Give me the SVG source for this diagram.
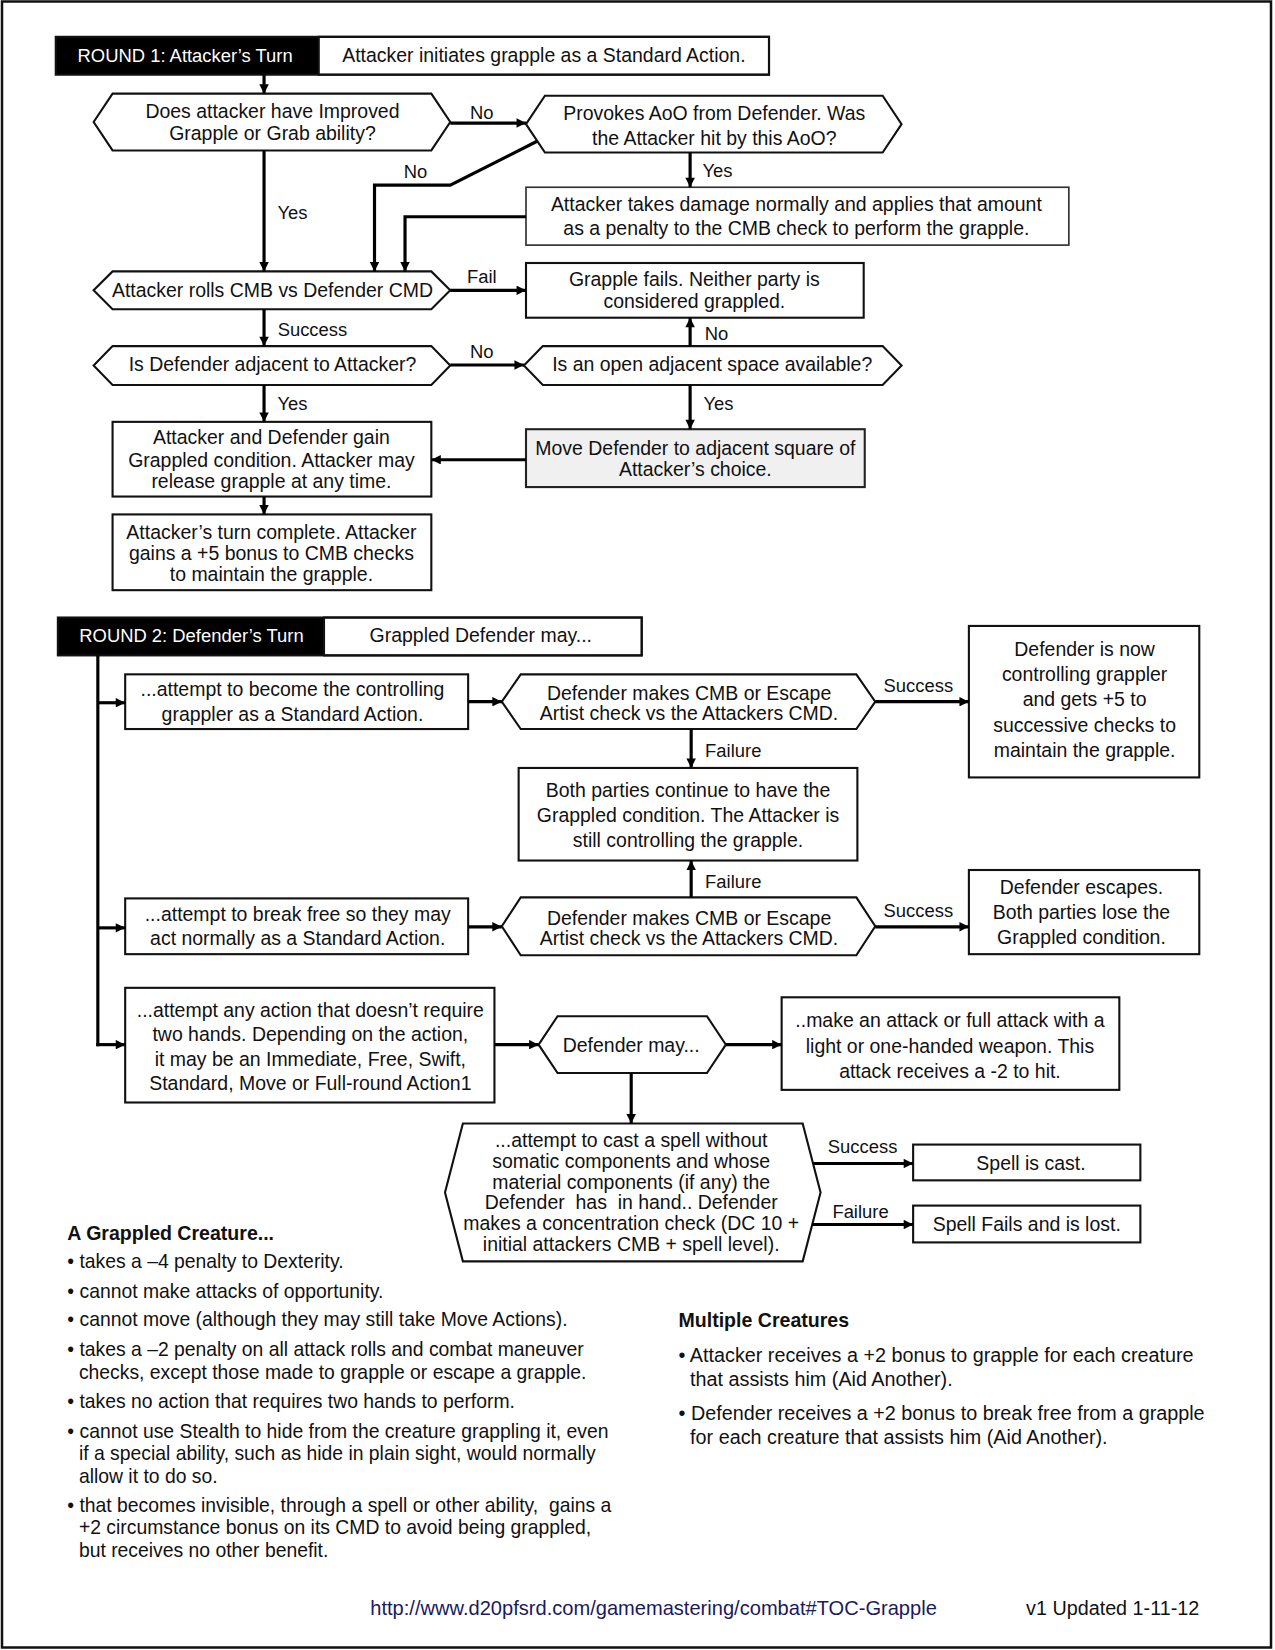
<svg xmlns="http://www.w3.org/2000/svg" width="1275" height="1650" viewBox="0 0 1275 1650">
<style>
text{font-family:"Liberation Sans",Arial,sans-serif;font-size:18.5px;fill:#111}
.c{text-anchor:middle}
.hdr{fill:#fff;font-size:17.5px}
.lbl{font-size:17.5px}
.box{fill:#fff;stroke:#111;stroke-width:2}
.gbox{fill:#f0f0f0;stroke:#222;stroke-width:2}
.conn{fill:none;stroke:#000;stroke-width:3}
.arr{marker-end:url(#ah)}
.b{font-size:18.4px}
.b2{font-size:18.8px}
.bh{font-size:18.6px;font-weight:bold}
.url{fill:#1a1a5c;font-size:19.1px}
</style>
<defs>
<marker id="ah" viewBox="0 0 10 10" refX="10" refY="5" markerWidth="3.6" markerHeight="3" orient="auto" markerUnits="strokeWidth"><path d="M0,0 L10,5 L0,10 z" fill="#000"/></marker>
</defs>
<rect x="2" y="1.5" width="1269" height="1646" fill="#fff" stroke="#111" stroke-width="2.5"/>
<g transform="scale(1.052)">
<g id="round1-header">
<rect x="53" y="35" width="250" height="36" fill="#000"/>
<rect x="303" y="35" width="428" height="36" class="box"/>
<rect x="53" y="35" width="678" height="36" fill="none" stroke="#111" stroke-width="2"/>
<text x="176" y="58.5" class="c hdr">ROUND 1: Attacker’s Turn</text>
<text x="517" y="58.5" class="c">Attacker initiates grapple as a Standard Action.</text>
</g>
<g id="q-improved">
<path class="box" d="M89,116 L107,89 H410 L428,116 L410,143 H107 Z"/>
<text x="259" y="112.5" class="c">Does attacker have Improved</text>
<text x="259" y="133.5" class="c">Grapple or Grab ability?</text>
</g>
<g id="q-aoo">
<path class="box" d="M500,118 L518,91 H839 L857,118 L839,145 H518 Z"/>
<text x="679" y="114.5" class="c">Provokes AoO from Defender. Was</text>
<text x="679" y="137.5" class="c">the Attacker hit by this AoO?</text>
</g>
<g id="damage">
<rect x="500" y="178" width="516" height="55" fill="#fff" stroke="#333" stroke-width="1.6"/>
<text x="757" y="200.5" class="c">Attacker takes damage normally and applies that amount</text>
<text x="757" y="223.5" class="c">as a penalty to the CMB check to perform the grapple.</text>
</g>
<g id="roll-cmb">
<path class="box" d="M89,276 L107,258 H410 L428,276 L410,294 H107 Z"/>
<text x="259" y="282.5" class="c">Attacker rolls CMB vs Defender CMD</text>
</g>
<g id="fails">
<rect class="box" x="500" y="250" width="321" height="52"/>
<text x="660" y="271.5" class="c">Grapple fails. Neither party is</text>
<text x="660" y="292.5" class="c">considered grappled.</text>
</g>
<g id="q-adjacent">
<path class="box" d="M89,347.5 L107,329 H410 L428,347.5 L410,366 H107 Z"/>
<text x="259" y="353" class="c">Is Defender adjacent to Attacker?</text>
</g>
<g id="q-space">
<path class="box" d="M498,347.5 L516,329 H839 L857,347.5 L839,366 H516 Z"/>
<text x="677" y="353" class="c">Is an open adjacent space available?</text>
</g>
<g id="grappled">
<rect class="box" x="107" y="401" width="303" height="71"/>
<text x="258" y="422.5" class="c">Attacker and Defender gain</text>
<text x="258" y="443.5" class="c">Grappled condition. Attacker may</text>
<text x="258" y="463.5" class="c">release grapple at any time.</text>
</g>
<g id="move-defender">
<rect class="gbox" x="500" y="408" width="322" height="55"/>
<text x="661" y="432.5" class="c">Move Defender to adjacent square of</text>
<text x="661" y="452.5" class="c">Attacker’s choice.</text>
</g>
<g id="turn-complete">
<rect class="box" x="107" y="489" width="303" height="72"/>
<text x="258" y="512.5" class="c">Attacker’s turn complete. Attacker</text>
<text x="258" y="532.5" class="c">gains a +5 bonus to CMB checks</text>
<text x="258" y="552.5" class="c">to maintain the grapple.</text>
</g>
<g id="round2-header">
<rect x="55" y="587" width="253" height="36" fill="#000"/>
<rect x="308" y="587" width="302" height="36" class="box"/>
<rect x="55" y="587" width="555" height="36" fill="none" stroke="#111" stroke-width="2"/>
<text x="182" y="610.5" class="c hdr">ROUND 2: Defender’s Turn</text>
<text x="457" y="610.5" class="c">Grappled Defender may...</text>
</g>
<g id="control">
<rect class="box" x="119" y="641" width="326" height="52"/>
<text x="278" y="661.5" class="c">...attempt to become the controlling</text>
<text x="278" y="685.5" class="c">grappler as a Standard Action.</text>
</g>
<g id="check1">
<path class="box" d="M477,667 L495,641 H814 L832,667 L814,693 H495 Z"/>
<text x="655" y="665.5" class="c">Defender makes CMB or Escape</text>
<text x="655" y="684.5" class="c">Artist check vs the Attackers CMD.</text>
</g>
<g id="now-controlling">
<rect class="box" x="921" y="595" width="219" height="144"/>
<text x="1031" y="623.5" class="c">Defender is now</text>
<text x="1031" y="647.5" class="c">controlling grappler</text>
<text x="1031" y="671.5" class="c">and gets +5 to</text>
<text x="1031" y="695.5" class="c">successive checks to</text>
<text x="1031" y="719.5" class="c">maintain the grapple.</text>
</g>
<g id="continue">
<rect class="box" x="493" y="730" width="322" height="88"/>
<text x="654" y="757.5" class="c">Both parties continue to have the</text>
<text x="654" y="781.5" class="c">Grappled condition. The Attacker is</text>
<text x="654" y="805.5" class="c">still controlling the grapple.</text>
</g>
<g id="break-free">
<rect class="box" x="119" y="854" width="326" height="53"/>
<text x="283" y="875.5" class="c">...attempt to break free so they may</text>
<text x="283" y="898.5" class="c">act normally as a Standard Action.</text>
</g>
<g id="check2">
<path class="box" d="M477,880.5 L495,853 H814 L832,880.5 L814,908 H495 Z"/>
<text x="655" y="879.5" class="c">Defender makes CMB or Escape</text>
<text x="655" y="898.5" class="c">Artist check vs the Attackers CMD.</text>
</g>
<g id="escapes">
<rect class="box" x="921" y="827" width="219" height="80"/>
<text x="1028" y="849.5" class="c">Defender escapes.</text>
<text x="1028" y="873.5" class="c">Both parties lose the</text>
<text x="1028" y="897.5" class="c">Grappled condition.</text>
</g>
<g id="any-action">
<rect class="box" x="119" y="939" width="351" height="109"/>
<text x="295" y="966.5" class="c">...attempt any action that doesn’t require</text>
<text x="295" y="989.5" class="c">two hands. Depending on the action,</text>
<text x="295" y="1013.5" class="c">it may be an Immediate, Free, Swift,</text>
<text x="295" y="1036.5" class="c">Standard, Move or Full-round Action1</text>
</g>
<g id="defender-may">
<path class="box" d="M512,993 L530,966 H672 L690,993 L672,1020 H530 Z"/>
<text x="600" y="1000" class="c">Defender may...</text>
</g>
<g id="attack">
<rect class="box" x="743" y="948" width="321" height="88"/>
<text x="903" y="976.5" class="c">..make an attack or full attack with a</text>
<text x="903" y="1000.5" class="c">light or one-handed weapon. This</text>
<text x="903" y="1024.5" class="c">attack receives a -2 to hit.</text>
</g>
<g id="cast-spell">
<path class="box" d="M423,1133.5 L440,1068 H763 L780,1133.5 L763,1199 H440 Z"/>
<text x="600" y="1090.5" class="c">...attempt to cast a spell without</text>
<text x="600" y="1110.5" class="c">somatic components and whose</text>
<text x="600" y="1130.5" class="c">material components (if any) the</text>
<text x="600" y="1149.5" class="c" xml:space="preserve">Defender  has  in hand.. Defender</text>
<text x="600" y="1169.5" class="c">makes a concentration check (DC 10 +</text>
<text x="600" y="1189.5" class="c">initial attackers CMB + spell level).</text>
</g>
<g id="spell-cast">
<rect class="box" x="868" y="1088" width="216" height="34"/>
<text x="980" y="1112" class="c">Spell is cast.</text>
</g>
<g id="spell-fails">
<rect class="box" x="868" y="1146" width="216" height="35"/>
<text x="976" y="1170" class="c">Spell Fails and is lost.</text>
</g>
<g id="connectors">
<path class="conn arr" d="M251,71 V89"/>
<path class="conn arr" d="M428,117 H500"/>
<path class="conn arr" d="M251,143 V258"/>
<path class="conn arr" d="M511,134 L428,176 H356 V258"/>
<path class="conn arr" d="M656,145 V178"/>
<path class="conn arr" d="M500,206 H385 V258"/>
<path class="conn arr" d="M428,276 H500"/>
<path class="conn arr" d="M251,294 V329"/>
<path class="conn arr" d="M428,347 H498"/>
<path class="conn arr" d="M656,329 V302"/>
<path class="conn arr" d="M656,366 V408"/>
<path class="conn arr" d="M251,366 V401"/>
<path class="conn arr" d="M500,437 H410"/>
<path class="conn arr" d="M251,472 V489"/>
<path class="conn" d="M93,623 V994.5"/>
<path class="conn arr" d="M93,668 H119"/>
<path class="conn arr" d="M93,882 H119"/>
<path class="conn arr" d="M91.5,993 H119"/>
<path class="conn arr" d="M445,667 H477"/>
<path class="conn arr" d="M832,667 H921"/>
<path class="conn arr" d="M657,693 V730"/>
<path class="conn arr" d="M657,853 V818"/>
<path class="conn arr" d="M445,881 H477"/>
<path class="conn arr" d="M832,881 H921"/>
<path class="conn arr" d="M470,993 H512"/>
<path class="conn arr" d="M690,993 H743"/>
<path class="conn arr" d="M600,1020 V1068"/>
<path class="conn arr" d="M773,1106 H868"/>
<path class="conn arr" d="M772,1164 H868"/>
<text x="458" y="113" class="c lbl">No</text>
<text x="395" y="169" class="c lbl">No</text>
<text x="682" y="168" class="c lbl">Yes</text>
<text x="278" y="208" class="c lbl">Yes</text>
<text x="458" y="269" class="c lbl">Fail</text>
<text x="297" y="319" class="c lbl">Success</text>
<text x="458" y="340" class="c lbl">No</text>
<text x="681" y="323" class="c lbl">No</text>
<text x="683" y="390" class="c lbl">Yes</text>
<text x="278" y="390" class="c lbl">Yes</text>
<text x="873" y="658" class="c lbl">Success</text>
<text x="697" y="720" class="c lbl">Failure</text>
<text x="697" y="844" class="c lbl">Failure</text>
<text x="873" y="872" class="c lbl">Success</text>
<text x="820" y="1096" class="c lbl">Success</text>
<text x="818" y="1158" class="c lbl">Failure</text>
</g>
<g id="grappled-creature-notes">
<text x="64" y="1178.5" class="bh">A Grappled Creature...</text>
<text x="64" y="1205.5" class="b">• takes a –4 penalty to Dexterity.</text>
<text x="64" y="1233.5" class="b">• cannot make attacks of opportunity.</text>
<text x="64" y="1260.5" class="b">• cannot move (although they may still take Move Actions).</text>
<text x="64" y="1288.5" class="b">• takes a –2 penalty on all attack rolls and combat maneuver</text>
<text x="75" y="1310.5" class="b">checks, except those made to grapple or escape a grapple.</text>
<text x="64" y="1338.5" class="b">• takes no action that requires two hands to perform.</text>
<text x="64" y="1366.5" class="b">• cannot use Stealth to hide from the creature grappling it, even</text>
<text x="75" y="1387.5" class="b">if a special ability, such as hide in plain sight, would normally</text>
<text x="75" y="1409.5" class="b">allow it to do so.</text>
<text x="64" y="1437.5" class="b" xml:space="preserve">• that becomes invisible, through a spell or other ability,  gains a</text>
<text x="75" y="1458.5" class="b">+2 circumstance bonus on its CMD to avoid being grappled,</text>
<text x="75" y="1480.5" class="b">but receives no other benefit.</text>
</g>
<g id="multiple-creatures-notes">
<text x="645" y="1261.5" class="bh">Multiple Creatures</text>
<text x="645" y="1294.5" class="b2">• Attacker receives a +2 bonus to grapple for each creature</text>
<text x="656" y="1317.5" class="b2">that assists him (Aid Another).</text>
<text x="645" y="1349.5" class="b2">• Defender receives a +2 bonus to break free from a grapple</text>
<text x="656" y="1372.5" class="b2">for each creature that assists him (Aid Another).</text>
</g>
<g id="footer">
<text x="352" y="1535.5" class="url">http://www.d20pfsrd.com/gamemastering/combat#TOC-Grapple</text>
<text x="1140" y="1535.5" style="text-anchor:end;font-size:18.8px">v1 Updated 1-11-12</text>
</g>
</g>
</svg>
